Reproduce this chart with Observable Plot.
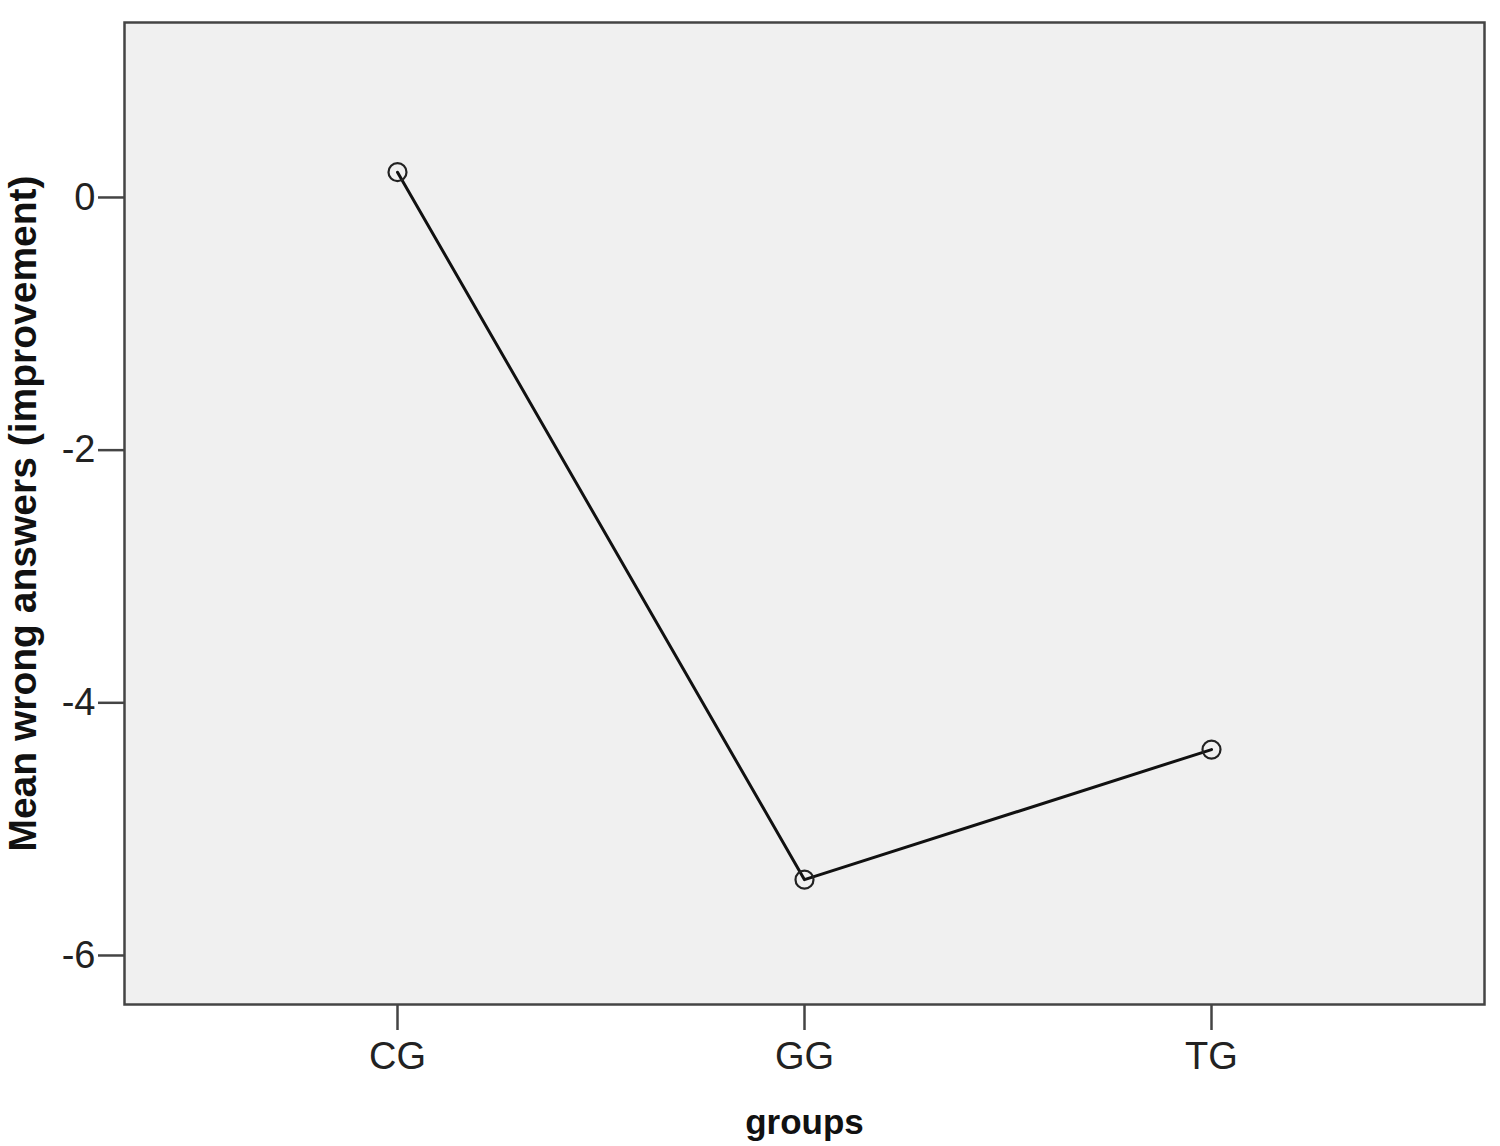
<!DOCTYPE html>
<html>
<head>
<meta charset="utf-8">
<script src="https://cdn.jsdelivr.net/npm/d3@7"></script>
<script src="https://cdn.jsdelivr.net/npm/@observablehq/plot@0.6"></script>
<style>
  html, body { margin: 0; padding: 0; background: #fff; }
  #chart svg { display: block; }
</style>
</head>
<body>
<div id="chart"></div>
<script>
const groups = ["CG", "GG", "TG"];
const meanWrong = [0.2, -5.4, -4.37];
const yTicks = [0, -2, -4, -6];
const xLabel = "groups";
const yLabel = "Mean wrong answers (improvement)";

const data = groups.map((g, i) => ({group: g, value: meanWrong[i]}));

const chart = Plot.plot({
  width: 1500,
  height: 1146,
  marginLeft: 124,
  marginRight: 16,
  marginTop: 22,
  marginBottom: 142,
  style: {fontFamily: "'Liberation Sans', Arial, sans-serif", background: "#fff", color: "#222", overflow: "visible"},
  x: {type: "point", domain: groups, padding: 0.6667},
  y: {domain: [-6.388, 1.385]},
  marks: [
    Plot.frame({fill: "#f0f0f0", stroke: "none"}),
    Plot.axisY({ticks: yTicks, tickSize: 26, tickPadding: 3, fontSize: 38, label: null, stroke: "#444", strokeWidth: 2.5, tickFormat: d => d < 0 ? "-" + Math.abs(d) : String(d)}),
    Plot.axisX({tickSize: 26, tickPadding: 12, fontSize: 38, label: null, stroke: "#444", strokeWidth: 2.5}),
    Plot.line(data, {x: "group", y: "value", stroke: "#111", strokeWidth: 3}),
    Plot.dot(data, {x: "group", y: "value", r: 9, stroke: "#222", strokeWidth: 2.2, fill: "none"}),
    Plot.frame({stroke: "#444", strokeWidth: 2.5}),
    Plot.text([yLabel], {frameAnchor: "left", textAnchor: "middle", dx: -101, rotate: -90, fontWeight: "bold", fontSize: 39, fill: "#111"}),
    Plot.text([xLabel], {frameAnchor: "bottom", dy: 129, fontWeight: "bold", fontSize: 35, fill: "#111"})
  ]
});
document.getElementById("chart").appendChild(chart);
</script>
</body>
</html>
